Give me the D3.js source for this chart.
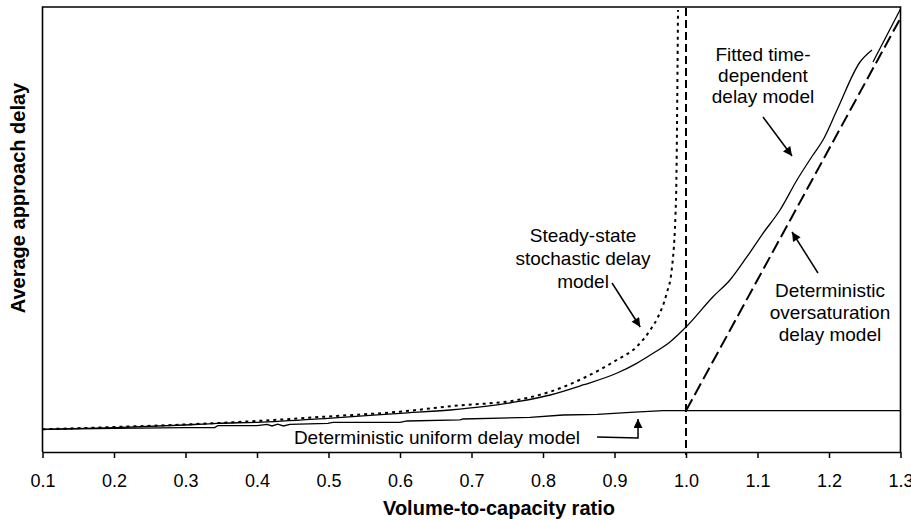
<!DOCTYPE html>
<html><head><meta charset="utf-8">
<script src="https://cdn.jsdelivr.net/npm/d3@7"></script>
<style>body{margin:0;background:#fff}svg{display:block;font-family:"Liberation Sans",Arial,sans-serif}</style>
</head><body><svg id="c" width="911" height="520"></svg>
<script>
// ---- data (x = volume-to-capacity ratio, y = average approach delay, arbitrary units) ----
const xTicks = [0.1,0.2,0.3,0.4,0.5,0.6,0.7,0.8,0.9,1.0,1.1,1.2,1.3];
const uniformX = [0.10,0.201,0.299,0.341,0.345,0.40,0.414,0.421,0.429,0.437,0.446,0.499,0.506,0.60,0.61,0.684,0.688,0.782,0.828,0.876,0.922,0.968,1.0,1.3];
const uniformY = [5.10,5.33,5.46,5.50,5.91,5.91,6.20,5.85,6.25,5.85,6.20,6.45,6.67,6.67,6.97,7.20,7.42,7.80,8.31,8.47,8.92,9.28,9.28,9.28];
const fittedX = [0.10,0.201,0.299,0.344,0.40,0.499,0.60,0.670,0.716,0.764,0.810,0.856,0.903,0.931,0.954,0.978,1.0,1.0378,1.0615,1.0853,1.1077,1.1315,1.1552,1.1776,1.1916,1.2112,1.2434,1.2601,null,1.2615,1.3];
const fittedY = [5.10,5.46,6.07,6.45,6.67,7.57,8.70,9.44,10.18,11.30,12.81,15.06,17.69,19.93,22.18,24.79,28.09,34.90,38.65,43.89,49.15,54.38,61.12,66.74,70.11,76.85,87.64,90.34,null,87.64,99.55];
const stochX = [0.10,0.201,0.299,0.40,0.499,0.60,0.674,0.764,0.810,0.856,0.903,0.931,0.950,0.961,0.973,0.980,0.986,0.9888];
const stochY = [5.10,5.62,6.18,6.97,7.98,9.06,10.34,11.69,13.55,16.56,20.67,23.66,27.42,30.40,35.66,40.90,56.63,99.3];
const overX = [1.0,1.3];
const overY = [9.28,97.5];
const capacityX = 1.0;

const W=911,H=520, L=42.5, R=900.5, T=7, B=452;
const svg=d3.select("#c");
const x=d3.scaleLinear().domain([0.1,1.3]).range([L,R]);
const y=d3.scaleLinear().domain([0,100]).range([B,T]);

const defs=svg.append("defs");
defs.append("marker").attr("id","ah").attr("viewBox","0 0 10 10").attr("refX",10).attr("refY",5)
  .attr("markerWidth",11).attr("markerHeight",9).attr("markerUnits","userSpaceOnUse").attr("orient","auto")
  .append("path").attr("d","M0,0L10,5L0,10z").attr("fill","#000");

// frame
svg.append("path").attr("d",`M${L},${B}V${T}H${R}V${B}`).attr("fill","none").attr("stroke","#000").attr("stroke-width",1.6);

// x axis
const ax=svg.append("g").attr("transform",`translate(0,${B})`)
  .call(d3.axisBottom(x).tickValues(xTicks).tickFormat(d3.format(".1f")).tickSize(6).tickSizeOuter(0).tickPadding(16));
ax.select(".domain").attr("stroke","#000").attr("stroke-width",1.6);
ax.selectAll(".tick line").attr("stroke","#000").attr("stroke-width",1.5);
ax.selectAll(".tick text").attr("font-size",18).attr("fill","#000").attr("font-family","Liberation Sans, Arial, sans-serif");

const mk=(xs,ys)=>xs.map((v,i)=>({x:v,y:ys[i]}));
const line=d3.line().defined(d=>d.x!==null).x(d=>x(d.x)).y(d=>y(d.y));
const smooth=d3.line().defined(d=>d.x!==null).x(d=>x(d.x)).y(d=>y(d.y)).curve(d3.curveMonotoneX);

svg.append("path").datum(mk(uniformX,uniformY)).attr("d",line).attr("fill","none").attr("stroke","#000").attr("stroke-width",1.3);
svg.append("path").datum(mk(fittedX,fittedY)).attr("d",smooth).attr("fill","none").attr("stroke","#000").attr("stroke-width",1.3);
svg.append("path").datum(mk(stochX,stochY)).attr("d",smooth).attr("fill","none").attr("stroke","#000").attr("stroke-width",2).attr("stroke-dasharray","3,4");
svg.append("path").datum(mk(overX,overY)).attr("d",line).attr("fill","none").attr("stroke","#000").attr("stroke-width",2).attr("stroke-dasharray","13,5");
svg.append("line").attr("x1",x(capacityX)).attr("x2",x(capacityX)).attr("y1",y(100)+1).attr("y2",B+3)
  .attr("stroke","#000").attr("stroke-width",2).attr("stroke-dasharray","8,4");

// annotations
function label(lines, cx, ys){
  lines.forEach((t,i)=>svg.append("text").attr("x",x(cx)).attr("y",y(ys[i])).attr("text-anchor","middle")
    .attr("font-size",19).attr("fill","#000").text(t));
}
function arrow(pts){
  svg.append("path").attr("d",d3.line()(pts.map(p=>[x(p[0]),y(p[1])]))).attr("fill","none")
    .attr("stroke","#000").attr("stroke-width",1.5).attr("marker-end","url(#ah)");
}
label(["Fitted time-","dependent","delay model"],1.1077,[87.87,83.15,78.43]);
arrow([[1.1077,75.28],[1.1483,66.52]]);
label(["Steady-state","stochastic delay","model"],0.856,[47.19,42.02,36.85]);
arrow([[0.8965,37.98],[0.936,28.09]]);
label(["Deterministic","oversaturation","delay model"],1.2014,[34.83,29.89,24.94]);
arrow([[1.1846,40.22],[1.1483,49.44]]);
label(["Deterministic uniform delay model"],0.6517,[1.80]);
arrow([[0.8755,3.37],[0.9329,3.15],[0.9329,7.42]]);

// axis titles
svg.append("text").attr("x",499).attr("y",515).attr("text-anchor","middle").attr("font-size",20).attr("font-weight","bold").text("Volume-to-capacity ratio");
svg.append("text").attr("transform","translate(24.5,198) rotate(-90)").attr("text-anchor","middle").attr("font-size",20).attr("font-weight","bold").text("Average approach delay");
</script></body></html>
